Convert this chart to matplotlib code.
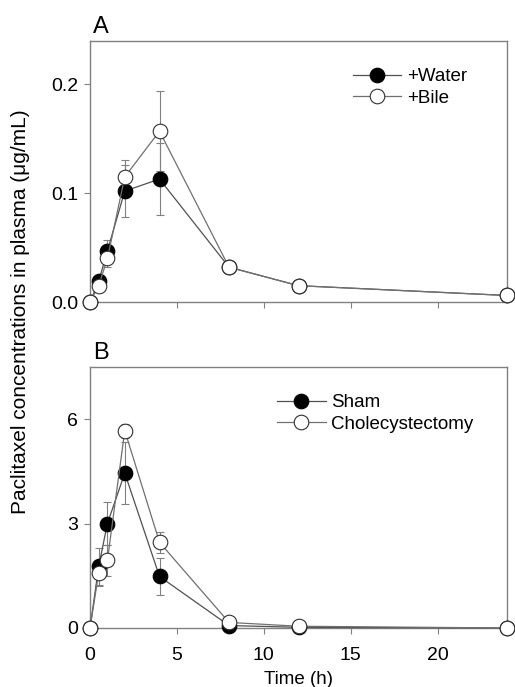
import matplotlib.pyplot as plt

plt.rcParams['font.family'] = ['Liberation Sans', 'DejaVu Sans']
plt.rcParams['font.size'] = 13.5

# time points (h)
time = [0, 0.5, 1, 2, 4, 8, 12, 24]

# panel A: +Water vs +Bile (ug/mL)
water = [0.0, 0.019, 0.047, 0.102, 0.113, 0.032, 0.015, 0.006]
water_err = [0, 0.004, 0.010, 0.024, 0.033, 0.002, 0.001, 0.001]
bile = [0.0, 0.015, 0.040, 0.115, 0.157, 0.032, 0.015, 0.006]
bile_err = [0, 0.003, 0.008, 0.016, 0.037, 0.002, 0.001, 0.001]

# panel B: Sham vs Cholecystectomy (ug/mL)
sham = [0.0, 1.77, 3.0, 4.45, 1.48, 0.07, 0.02, 0.0]
sham_err = [0, 0.53, 0.62, 0.88, 0.52, 0.03, 0.01, 0]
chole = [0.0, 1.58, 1.94, 5.67, 2.46, 0.16, 0.05, 0.0]
chole_err = [0, 0.38, 0.44, 0.2, 0.3, 0.05, 0.02, 0]

spine_col = '#808080'
line_col = '#505050'

fig = plt.figure(figsize=(5.15, 6.87), dpi=100)
axA = fig.add_axes([0.1748, 0.5604, 0.8097, 0.380])
axB = fig.add_axes([0.1748, 0.0859, 0.8097, 0.380])

legx = {'+Water': 0.63, 'Sham': 0.448}


def draw(ax, y1, e1, y2, e2, names):
    ax.errorbar(time, y1, yerr=e1, fmt='none', ecolor=spine_col,
                elinewidth=0.8, capsize=3, capthick=0.8, zorder=2)
    ax.errorbar(time, y2, yerr=e2, fmt='none', ecolor=spine_col,
                elinewidth=0.8, capsize=3, capthick=0.8, zorder=2)
    ax.plot(time, y1, '-o', color=line_col, lw=0.9, ms=10.5,
            mfc='black', mec='black', mew=0.8, label=names[0], zorder=3,
            clip_on=False)
    ax.plot(time, y2, '-o', color='#707070', lw=0.9, ms=10.5,
            mfc='white', mec='#303030', mew=0.8, label=names[1], zorder=4,
            clip_on=False)
    ax.set_xlim(0, 24)
    ax.set_xticks([0, 5, 10, 15, 20])
    for s in ax.spines.values():
        s.set_color(spine_col)
        s.set_linewidth(1.0)
    ax.tick_params(direction='out', length=4.5, width=0.8, color=spine_col,
                   labelsize=14)
    ax.tick_params(axis='x', pad=9)
    ax.tick_params(axis='y', pad=4)
    ax.legend(loc='upper left', bbox_to_anchor=(legx[names[0]], 0.896),
              frameon=False, handlelength=2.6, handletextpad=0.3,
              borderpad=0, borderaxespad=0, labelspacing=0.25)


draw(axA, water, water_err, bile, bile_err, ['+Water', '+Bile'])
axA.set_ylim(0, 0.24)
axA.set_yticks([0.0, 0.1, 0.2])
axA.set_yticklabels(['0.0', '0.1', '0.2'])
axA.set_xticklabels([])
axA.text(0.007, 1.031, 'A', transform=axA.transAxes, fontsize=17,
         ha='left', va='baseline')

draw(axB, sham, sham_err, chole, chole_err, ['Sham', 'Cholecystectomy'])
axB.set_ylim(0, 7.5)
axB.set_yticks([0, 3, 6])
axB.text(0.007, 1.031, 'B', transform=axB.transAxes, fontsize=17,
         ha='left', va='baseline')
axB.set_xlabel('Time (h)', labelpad=5, fontsize=13.5)

fig.text(0.04, 0.547, 'Paclitaxel concentrations in plasma (\u03bcg/mL)',
         rotation=90, ha='center', va='center', fontsize=15)

fig.savefig('out.png', dpi=100)
